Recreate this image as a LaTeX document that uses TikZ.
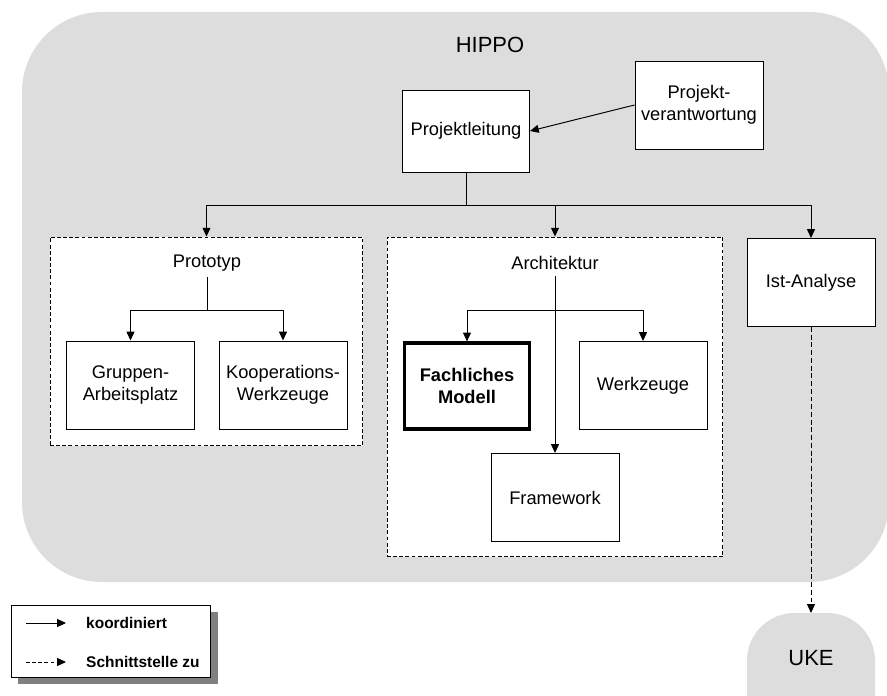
\documentclass[tikz,border=0pt]{standalone}
\usepackage{fontspec}
\setmainfont{Liberation Sans}
\usetikzlibrary{arrows.meta,shadows}
\definecolor{hippogray}{RGB}{221,221,221}
\tikzset{
  unit/.style={draw, fill=white, line width=0.55pt, align=center,
    minimum width=2.56cm, minimum height=1.76cm, font=\fontsize{10.4}{12.5}\selectfont},
  group/.style={draw, fill=white, dash pattern=on 2.2pt off 1.3pt, line width=0.55pt},
  lbl/.style={font=\fontsize{10.4}{12.5}\selectfont},
  coord/.style={-{Triangle[length=5pt,width=4.5pt]}, line width=0.55pt},
  iface/.style={coord, dash pattern=on 2.8pt off 1.6pt},
  legendtext/.style={font=\bfseries\fontsize{8.8}{10}\selectfont, anchor=west}
}
\begin{document}
\begin{tikzpicture}[x=0.02cm, y=-0.02cm]
  \useasboundingbox (0,0) rectangle (887,696);
  % project area
  \fill[hippogray, rounded corners=1.6cm] (22,12) rectangle (889,582);
  \node[font=\fontsize{12.5}{14}\selectfont] (hippo) at (490,45) {HIPPO};

  \draw
    (466,131) node[unit, minimum width=2.54cm, minimum height=1.64cm] (lead) {Projektleitung}
    (699,105) node[unit] (resp) {Projekt-\\verantwortung}
    (811,282.5) node[unit] (ist) {Ist-Analyse};

  % sub projects
  \node[group, minimum width=6.26cm, minimum height=4.18cm] (protobox) at (206.5,341.5) {};
  \node[group, minimum width=6.72cm, minimum height=6.4cm] (archbox) at (555,397) {};

  \draw
    (207,263) node[lbl] (protolbl) {Prototyp}
    (130.5,385) node[unit] (grp) {Gruppen-\\Arbeitsplatz}
    (283,385) node[unit] (koop) {Kooperations-\\Werkzeuge}
    (555,263) node[lbl] (archlbl) {Architektur}
    (467,386) node[unit, line width=1.8pt, minimum width=2.5cm, minimum height=1.72cm,
      font=\bfseries\fontsize{10.4}{12.5}\selectfont] (fach) {Fachliches\\Modell}
    (643,385.5) node[unit] (werk) {Werkzeuge}
    (555,497.5) node[unit] (frame) {Framework};

  % partner
  \fill[hippogray, rounded corners=0.95cm] (747,613) rectangle (875,760);
  \node[font=\fontsize{12.5}{14}\selectfont] (uke) at (811,658) {UKE};
  \coordinate (uketop) at (811,613);

  \coordinate (split) at (466,205);
  \coordinate (protosplit) at (207,310);
  \coordinate (archsplit) at (555,310);
  \begin{scope}[coord]
    \draw (resp.west) -- (lead.east);
    \draw[-] (lead.south) -- (split);
    \draw (split) -| (protobox.north);
    \draw (split) -| (archbox.north);
    \draw (split) -| (ist.north);
    \draw[-] (protolbl.south) -- (protosplit);
    \draw (protosplit) -| (grp.north);
    \draw (protosplit) -| (koop.north);
    \draw (archlbl.south) -- (frame.north);
    \draw (archsplit) -| (fach.north);
    \draw (archsplit) -| (werk.north);
  \end{scope}
  \draw[iface] (ist.south) -- (uketop);

  % legend
  \node[draw, fill=white, line width=0.55pt, minimum width=4cm, minimum height=1.44cm,
    drop shadow={shadow xshift=0.14cm, shadow yshift=-0.14cm, fill=black!50, opacity=1}]
    (legend) at (111,641) {};
  \coordinate (k1) at (26,623);
  \coordinate (k2) at (66,623);
  \coordinate (s1) at (26,662);
  \coordinate (s2) at (66,662);
  \draw[coord] (k1) -- (k2);
  \draw[iface, dash pattern=on 2.2pt off 1.3pt] (s1) -- (s2);
  \node[legendtext] (ktext) at (80,623) {koordiniert};
  \node[legendtext] (stext) at (80,662) {Schnittstelle zu};
\end{tikzpicture}
\end{document}
